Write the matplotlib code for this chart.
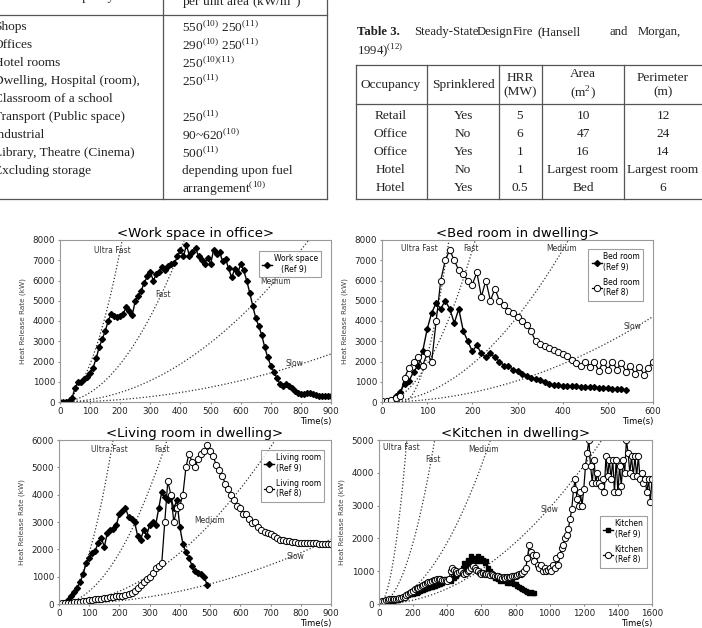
import numpy as np
import matplotlib
matplotlib.use("Agg")
import matplotlib.pyplot as plt

plt.rcParams['mathtext.fontset'] = 'custom'
plt.rcParams['mathtext.rm'] = 'Liberation Serif'

# ---- data ----
# growth coefficients of the t-squared design fires (kW/s^2) and start offsets (s)
GROWTH_NAMES = ['Ultra Fast', 'Fast', 'Medium', 'Slow']
ALPHA_STD = [0.1876, 0.0469, 0.01172, 0.00293]
ALPHA_BED = [0.75, 0.1876, 0.0469, 0.01172]
T0_STD = [0, 0, 0, 0]
T0_BED = [45, 0, 0, 0]

# work space in office (Ref 9), 10 s sampling
work_t = np.arange(0, 910, 10)
work_q = [0, 0, 0, 50, 200, 700, 1000, 1000, 1150, 1250,
          1450, 1700, 2150, 2700, 3100, 3500, 4000, 4350, 4250, 4200,
          4250, 4350, 4700, 4500, 4300, 5000, 5250, 5500, 5900, 6200,
          6400, 6000, 6300, 6400, 6650, 6500, 6700, 6800, 6850, 7200,
          7500, 7200, 7750, 7200, 7400, 7600, 7200, 7000, 6800, 7100,
          6800, 7500, 7300, 7400, 6950, 7050, 6600, 6150, 6550, 6350,
          6800, 6500, 6000, 5400, 4750, 4150, 3750, 3300, 2700, 2200,
          1800, 1500, 1200, 900, 800, 900, 800, 700, 550, 450,
          380, 400, 420, 450, 380, 350, 320, 300, 300, 300, 280]

# bed room in dwelling
bed9_t = np.arange(0, 550, 10)
bed9_q = [0, 0, 100, 300, 500, 900, 1050, 1500, 1800, 2500,
          3600, 4400, 4900, 4600, 5000, 4600, 3900, 4600, 3500, 3000,
          2500, 2800, 2400, 2200, 2400, 2200, 2000, 1800, 1800, 1600,
          1550, 1400, 1300, 1200, 1150, 1100, 1000, 900, 850, 830,
          800, 790, 780, 770, 760, 740, 730, 720, 710, 700,
          680, 660, 640, 620, 570]
bed8_t = np.arange(0, 610, 10)
bed8_q = [50, 50, 100, 200, 300, 1200, 1700, 2000, 2200, 1800,
          2400, 2000, 4000, 6000, 7000, 7500, 7000, 6500, 6300, 6000,
          5800, 6400, 5200, 6000, 5000, 5600, 5000, 4800, 4500, 4400,
          4200, 4000, 3800, 3500, 3000, 2850, 2750, 2650, 2550, 2450,
          2350, 2250, 2050, 1950, 1800, 2000, 1750, 2000, 1550, 2000,
          1600, 2000, 1600, 1950, 1500, 1800, 1400, 1750, 1350, 1700, 2000]

# living room in dwelling
liv9_t = np.arange(30, 500, 10)
liv9_q = [150, 300, 450, 600, 800, 1100, 1500, 1700, 1850, 1950,
          2250, 2400, 2100, 2600, 2700, 2750, 2900, 3300, 3400, 3500,
          3200, 3100, 3000, 2500, 2350, 2700, 2500, 2900, 3000, 2900,
          3500, 4100, 3900, 3800, 3900, 3500, 3800, 2800, 2200, 1900,
          1700, 1400, 1200, 1150, 1100, 1000, 700]
liv8_t = np.arange(0, 910, 10)
liv8_q = [0, 20, 30, 40, 50, 60, 70, 80, 100, 110,
          130, 150, 170, 180, 200, 210, 230, 250, 260, 280,
          300, 310, 330, 350, 400, 480, 600, 700, 800, 900,
          1000, 1150, 1300, 1400, 1500, 3000, 4500, 4000, 3000, 3500,
          3600, 4000, 5000, 5500, 5200, 5000, 5300, 5500, 5600, 5800,
          5600, 5400, 5100, 4900, 4700, 4400, 4200, 4000, 3800, 3600,
          3500, 3300, 3300, 3100, 2950, 3000, 2800, 2700, 2650, 2600,
          2550, 2500, 2400, 2350, 2330, 2300, 2300, 2280, 2270, 2250,
          2250, 2250, 2250, 2240, 2230, 2250, 2200, 2200, 2200, 2180, 2200]

# kitchen in dwelling
kit9_t = np.arange(0, 920, 10)
kit9_q = [0, 20, 40, 50, 60, 70, 80, 90, 100, 110,
          120, 130, 150, 170, 190, 220, 250, 280, 300, 300,
          310, 330, 350, 380, 400, 420, 440, 460, 480, 500,
          510, 530, 550, 560, 580, 600, 620, 650, 700, 750,
          720, 760, 700, 1000, 800, 850, 900, 950, 1000, 1100,
          1250, 1150, 1350, 1250, 1450, 1300, 1400, 1300, 1450, 1300,
          1400, 1350, 1250, 1300, 1100, 1000, 900, 850, 800, 780,
          750, 700, 750, 700, 720, 650, 700, 650, 680, 600,
          620, 550, 520, 480, 450, 420, 400, 380, 350, 380, 350, 330]
kit8_t = np.arange(0, 1610, 10)
kit8_q = [0, 50, 80, 100, 120, 130, 140, 150, 150, 150,
          150, 160, 170, 180, 200, 220, 260, 300, 330, 360,
          400, 450, 480, 500, 530, 560, 580, 600, 630, 660,
          680, 700, 720, 740, 750, 760, 750, 740, 730, 720,
          700, 750, 1000, 1100, 1050, 1000, 950, 980, 1000, 950,
          900, 950, 1000, 1050, 1100, 1150, 1100, 1050, 1000, 950,
          900, 950, 920, 900, 900, 880, 900, 870, 850, 860,
          850, 830, 800, 820, 800, 810, 820, 830, 850, 840,
          850, 870, 900, 920, 950, 1000, 1100, 1400, 1800, 1600,
          1500, 1300, 1500, 1200, 1100, 1200, 1000, 1100, 1000, 1050,
          1100, 1000, 1200, 1100, 1400, 1200, 1500, 1700, 1800, 2000,
          2100, 2300, 2600, 2900, 3500, 3800, 3200, 3000, 3400, 3000,
          3500, 4200, 4600, 5000, 4200, 3700, 4400, 3700, 4000, 3700,
          3600, 3800, 3400, 4500, 3900, 4400, 3800, 4400, 3400, 4400,
          3400, 4200, 3600, 4400, 4000, 5000, 4600, 4000, 4500, 3900,
          4500, 3900, 4500, 3800, 4000, 3700, 3800, 3400, 3800, 3100, 3800]

# labels of the growth curves: (t, Q) centre for each panel
work_lbl = [(175, 7500), (343, 5300), (717, 5950), (777, 1900)]
bed_lbl = [(82, 7600), (196, 7600), (398, 7570), (555, 3720)]
liv_lbl = [(166, 5660), (342, 5660), (497, 3050), (782, 1730)]
kit_lbl = [(129, 4770), (318, 4410), (615, 4700), (996, 2890)]

W, H = 702, 628
fig = plt.figure(figsize=(W / 100, H / 100), dpi=100)

# ---- page overlay in pixel coordinates (tables) ----
page = fig.add_axes([0, 0, 1, 1])
page.set_xlim(0, W)
page.set_ylim(H, 0)
page.axis('off')
serif = dict(family='Liberation Serif', fontsize=9.6, color='#222')
lc = dict(color='#555', lw=0.9)

# left table (cut on the page)
page.plot([0, 327], [15, 15], **lc)
page.plot([163, 163], [0, 199], **lc)
page.plot([327, 327], [0, 199], **lc)
page.plot([0, 327], [199, 199], **lc)
page.text(85, -3, 'Occupancy', ha='center', va='center', **serif)
page.text(182, 3, r'per unit area (kW/m$^{\rm 2}$)', ha='left', va='center', **serif)
left_rows = ['Shops', 'Offices', 'Hotel rooms', 'Dwelling, Hospital (room),',
             'Classroom of a school', 'Transport (Public space)', 'Industrial',
             'Library, Theatre (Cinema)', 'Excluding storage']
left_vals = [r'550$^{\rm (10)}$ 250$^{\rm (11)}$', r'290$^{\rm (10)}$ 250$^{\rm (11)}$',
             r'250$^{\rm (10)(11)}$', r'250$^{\rm (11)}$', '', r'250$^{\rm (11)}$',
             r'90~620$^{\rm (10)}$', r'500$^{\rm (11)}$', 'depending upon fuel']
for i, (r, v) in enumerate(zip(left_rows, left_vals)):
    y = 27 + 18 * i
    page.text(-6, y, r, ha='left', va='center', **serif)
    page.text(182, y, v, ha='left', va='center', **serif)
page.text(182, 189, r'arrangement$^{\rm (10)}$', ha='left', va='center', **serif)

# Table 3 caption (justified words)
cap = dict(serif, fontsize=9.2)
page.text(357, 32, 'Table 3.', ha='left', va='center', fontweight='bold', **cap)
for x, w in zip([414, 477, 513, 538, 609, 638],
                ['Steady-State', 'Design', 'Fire', '(Hansell', 'and', 'Morgan,']):
    page.text(x, 32, w, ha='left', va='center', **cap)
page.text(357, 50, r'1994)$^{\rm (12)}$', ha='left', va='center', **cap)

# Table 3 body
t3_cols = [391, 463, 520, 583, 663]
t3_head = ['Occupancy', 'Sprinklered', 'HRR\n(MW)', 'Area\n(m$^{\\rm 2}$)', 'Perimeter\n(m)']
t3_rows = [['Retail', 'Yes', '5', '10', '12'],
           ['Office', 'No', '6', '47', '24'],
           ['Office', 'Yes', '1', '16', '14'],
           ['Hotel', 'No', '1', 'Largest room', 'Largest room'],
           ['Hotel', 'Yes', '0.5', 'Bed', '6']]
for y in [65, 104, 199]:
    page.plot([356, W], [y, y], **lc)
for x in [356, 427, 499, 542, 624]:
    page.plot([x, x], [65, 199], **lc)
for x, h in zip(t3_cols, t3_head):
    page.text(x, 85, h, ha='center', va='center', linespacing=1.3, **serif)
for i, row in enumerate(t3_rows):
    for x, v in zip(t3_cols, row):
        page.text(x, 116 + 18 * i, v, ha='center', va='center', **serif)


# ---- the four HRR plots ----
def px_axes(left, top, right, bottom):
    return fig.add_axes([left / W, 1 - bottom / H, (right - left) / W, (bottom - top) / H])


def growth(ax, xmax, alphas, t0s, labels):
    tt = np.linspace(0, xmax, 400)
    for a, t0, name, (lx, ly) in zip(alphas, t0s, GROWTH_NAMES, labels):
        q = a * np.clip(tt - t0, 0, None) ** 2
        ax.plot(tt, q, ls=':', color='#333', lw=0.9)
        ax.text(lx, ly, name, fontsize=5.5, color='#333', ha='center', va='center')


def style(ax, title, xmax, xstep, ymax):
    ax.set_xlim(0, xmax)
    ax.set_ylim(0, ymax)
    ax.set_xticks(np.arange(0, xmax + 1, xstep))
    ax.set_yticks(np.arange(0, ymax + 1, 1000))
    ax.tick_params(labelsize=6.3, length=1.5, color='#888', pad=2, labelcolor='#222')
    for s in ax.spines.values():
        s.set_color('#999')
        s.set_linewidth(0.8)
    ax.set_title(title, fontsize=9.5, pad=1.5, family='DejaVu Sans')
    ax.set_xlabel('Time(s)', loc='right', fontsize=6, labelpad=1)
    ax.set_ylabel('Heat Release Rate (kW)', fontsize=5.2, color='#444', labelpad=5)


filled = dict(color='black', lw=1.0, marker='D', ms=3, mfc='black', mec='black')
opened = dict(color='black', lw=0.9, marker='o', ms=4.5, mfc='white', mec='black', mew=0.7)
leg = dict(fontsize=5.5, frameon=True, fancybox=False, edgecolor='#888',
           handlelength=1.3, handletextpad=0.2, borderpad=0.45, labelspacing=0.8,
           loc='upper right')

ax1 = px_axes(60, 240, 331, 402)
growth(ax1, 900, ALPHA_STD, T0_STD, work_lbl)
ax1.plot(work_t, work_q, label='Work space\n   (Ref 9)', **filled)
style(ax1, '<Work space in office>', 900, 100, 8000)
ax1.legend(bbox_to_anchor=(0.978, 0.957), **leg).get_frame().set_linewidth(0.8)

ax2 = px_axes(382, 240, 653, 402)
growth(ax2, 600, ALPHA_BED, T0_BED, bed_lbl)
ax2.plot(bed9_t, bed9_q, label='Bed room\n(Ref 9)', **filled)
ax2.plot(bed8_t, bed8_q, label='Bed room\n(Ref 8)', **opened)
style(ax2, '<Bed room in dwelling>', 600, 100, 8000)
ax2.legend(bbox_to_anchor=(0.978, 0.969), **leg).get_frame().set_linewidth(0.8)

ax3 = px_axes(59, 440, 331, 604)
growth(ax3, 900, ALPHA_STD, T0_STD, liv_lbl)
ax3.plot(liv9_t, liv9_q, label='Living room\n(Ref 9)', **filled)
ax3.plot(liv8_t, liv8_q, label='Living room\n(Ref 8)', **opened)
style(ax3, '<Living room in dwelling>', 900, 100, 6000)
ax3.legend(bbox_to_anchor=(0.989, 0.963), **leg).get_frame().set_linewidth(0.8)

ax4 = px_axes(379, 440, 652, 604)
growth(ax4, 1600, ALPHA_STD, T0_STD, kit_lbl)
ax4.plot(kit9_t, kit9_q, label='Kitchen\n(Ref 9)', color='black', lw=1.0,
         marker='s', ms=2.2, mfc='black', mec='black')
ax4.plot(kit8_t, kit8_q, label='Kitchen\n(Ref 8)', **opened)
style(ax4, '<Kitchen in dwelling>', 1600, 200, 5000)
ax4.legend(bbox_to_anchor=(0.995, 0.561), **leg).get_frame().set_linewidth(0.8)

fig.savefig('out.png', dpi=100)
